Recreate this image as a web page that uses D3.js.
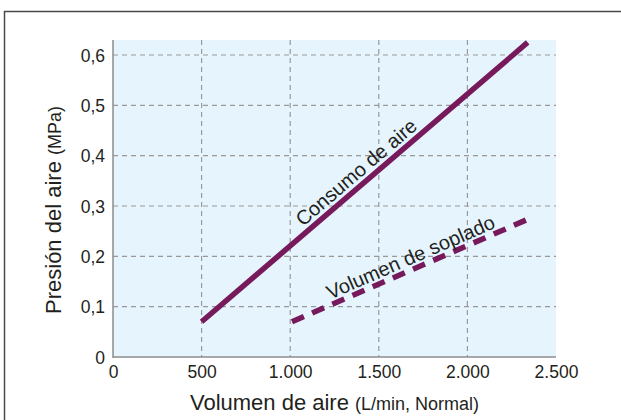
<!DOCTYPE html>
<html><head><meta charset="utf-8">
<script src="https://cdn.jsdelivr.net/npm/d3@7"></script>
<style>body{margin:0;background:#fff}svg{display:block;font-family:"Liberation Sans",Arial,sans-serif}</style>
</head><body>
<svg id="c" width="621" height="420"></svg>
<script>
const xTicks = [0, 500, 1000, 1500, 2000, 2500];
const xTickLabels = ["0", "500", "1.000", "1.500", "2.000", "2.500"];
const yTicks = [0, 0.1, 0.2, 0.3, 0.4, 0.5, 0.6];
const yTickLabels = ["0", "0,1", "0,2", "0,3", "0,4", "0,5", "0,6"];
const consumoX = [500, 2340];
const consumoY = [0.07, 0.625];
const sopladoX = [1010, 2350];
const sopladoY = [0.07, 0.275];
const seriesNames = ["Consumo de aire", "Volumen de soplado"];

const svg = d3.select("#c");
const m = {l:113, r:556, t:40, b:357};
const x = d3.scaleLinear().domain([0, 2500]).range([m.l, m.r]);
const y = d3.scaleLinear().domain([0, 0.6]).range([m.b, 55]);

// outer frame
svg.append("rect").attr("x",4.5).attr("y",11.5).attr("width",640).attr("height",440)
  .attr("fill","none").attr("stroke","#4a4a4a").attr("stroke-width",1.5);

// plot background
svg.append("rect").attr("x",m.l).attr("y",m.t).attr("width",m.r-m.l).attr("height",m.b-m.t)
  .attr("fill","#e6f5fd");

// grid
const g = svg.append("g").attr("stroke","#999").attr("stroke-width",1.2).attr("stroke-dasharray","5,4");
xTicks.slice(1,-1).forEach(v=>g.append("line").attr("x1",x(v)).attr("x2",x(v)).attr("y1",m.t).attr("y2",m.b));
yTicks.slice(1).forEach(v=>g.append("line").attr("x1",m.l).attr("x2",m.r).attr("y1",y(v)).attr("y2",y(v)));

// axes
const xAxis = d3.axisBottom(x).tickValues(xTicks).tickFormat((d,i)=>xTickLabels[i]).tickSize(0).tickPadding(9);
const yAxis = d3.axisLeft(y).tickValues(yTicks).tickFormat((d,i)=>yTickLabels[i]).tickSize(0).tickPadding(8);
const gx = svg.append("g").attr("transform",`translate(0,${m.b})`).call(xAxis);
const gy = svg.append("g").attr("transform",`translate(${m.l},0)`).call(yAxis);
gx.select(".domain").remove(); gy.select(".domain").remove();
[gx,gy].forEach(a=>a.selectAll("text").attr("font-size",17.5).attr("fill","#231f20").attr("font-family","Liberation Sans, Arial, sans-serif"));
gy.selectAll("text").attr("dy","0.35em");
svg.append("line").attr("x1",m.l).attr("x2",m.l).attr("y1",m.t).attr("y2",m.b+1).attr("stroke","#8c8c8c").attr("stroke-width",1.5);
svg.append("line").attr("x1",m.l).attr("x2",m.r).attr("y1",m.b).attr("y2",m.b).attr("stroke","#8c8c8c").attr("stroke-width",1.5);

// lines
const line = d3.line().x(d=>x(d[0])).y(d=>y(d[1]));
const col = "#761a5c";
svg.append("path").attr("d",line(d3.zip(consumoX,consumoY))).attr("stroke",col).attr("stroke-width",5.5).attr("fill","none");
svg.append("path").attr("d",line(d3.zip(sopladoX,sopladoY))).attr("stroke",col).attr("stroke-width",5.5).attr("fill","none").attr("stroke-dasharray","13,9");

// line labels
function label(xs, ys, t, text, off){
  const x0=x(xs[0]), y0=y(ys[0]), x1=x(xs[1]), y1=y(ys[1]);
  const ang = Math.atan2(y1-y0, x1-x0);
  const px = x0+(x1-x0)*t, py = y0+(y1-y0)*t;
  const nx = Math.sin(ang)*off, ny = -Math.cos(ang)*off;
  svg.append("text").attr("transform",`translate(${px+nx},${py+ny}) rotate(${ang*180/Math.PI})`)
    .attr("text-anchor","middle").attr("dy","0.35em").attr("font-size",20).attr("fill","#231f20").text(text);
}
label(consumoX, consumoY, 0.50, seriesNames[0], 13);
label(sopladoX, sopladoY, 0.52, seriesNames[1], 12);

// axis titles
const xt = svg.append("text").attr("x",(m.l+m.r)/2).attr("y",410).attr("text-anchor","middle").attr("fill","#231f20");
xt.append("tspan").attr("font-size",22).text("Volumen de aire ");
xt.append("tspan").attr("font-size",18).text("(L/min, Normal)");
const yt = svg.append("text").attr("transform","translate(61,210) rotate(-90)").attr("text-anchor","middle").attr("fill","#231f20");
yt.append("tspan").attr("font-size",22).text("Presión del aire ");
yt.append("tspan").attr("font-size",18).text("(MPa)");
</script>
</body></html>
